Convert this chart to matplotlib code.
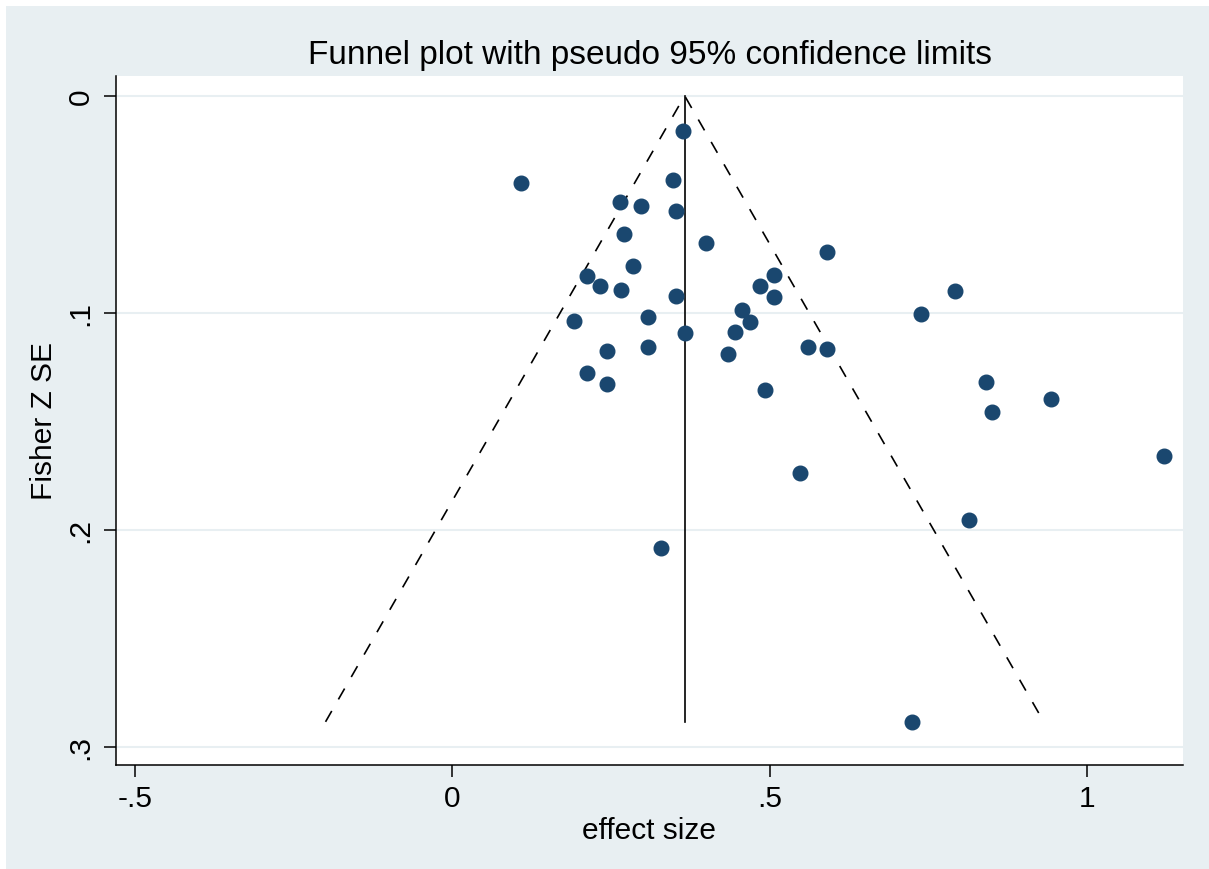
import numpy as np
import matplotlib.pyplot as plt
from matplotlib.patches import Rectangle

plt.rcParams['font.family'] = ['Liberation Sans', 'DejaVu Sans']

# study effect sizes (Fisher Z) and their standard errors
effect = [0.364, 0.109, 0.347, 0.264, 0.297, 0.352, 0.271, 0.399, 0.590, 0.285,
          0.212, 0.507, 0.233, 0.265, 0.484, 0.791, 0.352, 0.507, 0.738, 0.309,
          0.457, 0.192, 0.469, 0.446, 0.367, 0.243, 0.309, 0.560, 0.590, 0.434,
          0.212, 0.244, 0.840, 0.493, 0.943, 0.850, 1.121, 0.548, 0.814, 0.329,
          0.724]
se = [0.0164, 0.0404, 0.0388, 0.0488, 0.0508, 0.0533, 0.0637, 0.0680, 0.0722, 0.0783,
      0.0832, 0.0825, 0.0876, 0.0894, 0.0876, 0.0901, 0.0924, 0.0928, 0.1005, 0.1021,
      0.0988, 0.1040, 0.1044, 0.1090, 0.1095, 0.1175, 0.1157, 0.1159, 0.1167, 0.1191,
      0.1278, 0.1330, 0.1321, 0.1355, 0.1398, 0.1456, 0.1662, 0.1739, 0.1954, 0.2083,
      0.2885]

pooled = 0.366   # fixed-effect estimate (vertical line)
z = 1.96

xticks = [-0.5, 0, 0.5, 1]
xticklabels = ['-.5', '0', '.5', '1']
yticks = [0, 0.1, 0.2, 0.3]
yticklabels = ['0', '.1', '.2', '.3']

navy = '#1a476f'
bg = '#e8eff2'
grid = '#e8eff2'

fig = plt.figure(figsize=(12.09, 8.70), dpi=100)
fig.patch.set_facecolor('white')
fig.patches.append(Rectangle((6/1209, 0), 1, 1 - 7/870, transform=fig.transFigure,
                             facecolor=bg, edgecolor='none', zorder=-10))

ax = fig.add_axes([116/1209, 1 - 766/870, (1183-116)/1209, (766-77)/870])
ax.set_facecolor('white')

# funnel limits
semax = max(se)
ax.plot([pooled - z*semax, pooled, pooled + z*semax], [semax, 0, semax],
        c='black', lw=1.2, dashes=(7.5, 8))
ax.plot([pooled, pooled], [0, semax], c='black', lw=1.2)

ax.plot(effect, se, 'o', ms=10.5, color=navy, mec=navy, zorder=3)

ax.set_xlim(-0.5294, 1.1507)
ax.set_ylim(0.3084, -0.0091)

ax.set_xticks(xticks)
ax.set_xticklabels(xticklabels)
ax.set_yticks(yticks)
ax.set_yticklabels(yticklabels, rotation=90, va='center')
for y in yticks:
    ax.axhline(y, color=grid, lw=1.5, zorder=0)

ax.tick_params(axis='both', labelsize=21.5, length=8.5, width=1.1, direction='out', pad=5)
ax.tick_params(axis='y', pad=7)
for s in ['top', 'right']:
    ax.spines[s].set_visible(False)
for s in ['left', 'bottom']:
    ax.spines[s].set_linewidth(1.1)

ax.set_xlabel('effect size', fontsize=21.5, labelpad=3)
ax.set_ylabel('Fisher Z SE', fontsize=21.5, labelpad=6)
ax.set_title('Funnel plot with pseudo 95% confidence limits', fontsize=24, pad=9.5)

fig.savefig('out.png', dpi=100, facecolor=fig.get_facecolor())
